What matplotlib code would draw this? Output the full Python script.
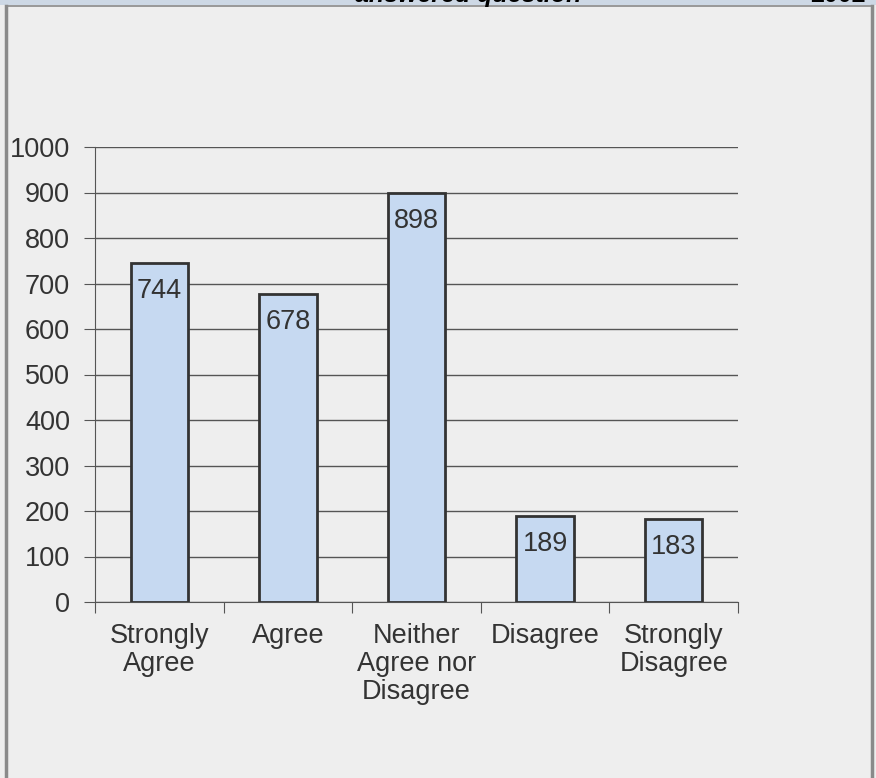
import matplotlib.pyplot as plt
import matplotlib.patches as patches
import numpy as np

plt.rcParams['font.family'] = ['Liberation Sans', 'DejaVu Sans']

# Survey response counts
categories = ['Strongly\nAgree', 'Agree', 'Neither\nAgree nor\nDisagree', 'Disagree', 'Strongly\nDisagree']
counts = [744, 678, 898, 189, 183]
yticks = [0, 100, 200, 300, 400, 500, 600, 700, 800, 900, 1000]

text_color = '#333333'
bg_color = '#eeeeee'
fs = 19.5

fig = plt.figure(figsize=(8.76, 7.78), dpi=100)
fig.patch.set_facecolor(bg_color)

# Header band and panel frame
fig.patches.append(patches.Rectangle((0, 1 - 5 / 778), 1, 5 / 778, transform=fig.transFigure,
                                     facecolor='#cdd8e5', edgecolor='none', zorder=0))
fig.add_artist(plt.Line2D([6 / 876, 6 / 876], [0, 1 - 6 / 778], transform=fig.transFigure,
                          color='#8a8a8a', lw=2.5))
fig.add_artist(plt.Line2D([872 / 876, 872 / 876], [0, 1 - 6 / 778], transform=fig.transFigure,
                          color='#8a8a8a', lw=2.5))
fig.add_artist(plt.Line2D([6 / 876, 872 / 876], [1 - 6 / 778, 1 - 6 / 778], transform=fig.transFigure,
                          color='#8a8a8a', lw=1.2))
# Header text, cut off by the top edge as in the page above
fig.text(468 / 876, 1 + 5 / 778, 'answered question', ha='center', va='center',
         fontsize=18, fontweight='bold', fontstyle='italic', color='black')
fig.text(838 / 876, 1 + 5 / 778, '2002', ha='center', va='center',
         fontsize=18, fontweight='bold', color='black')

ax = fig.add_axes([95 / 876, 1 - 602 / 778, 643 / 876, 455 / 778])
ax.set_facecolor(bg_color)

x = np.arange(len(categories))
bars = ax.bar(x, counts, width=0.445, color='#c6d9f1', edgecolor='#333333', linewidth=2, zorder=3)

for xi, v in zip(x, counts):
    ax.annotate(str(v), (xi, v), xytext=(0, -28), textcoords='offset pixels',
                ha='center', va='center', fontsize=fs, color=text_color, zorder=4)

ax.set_xlim(-0.5, len(categories) - 0.5)
ax.set_ylim(0, 1000)
ax.set_yticks(yticks)
ax.set_yticklabels([str(t) for t in yticks], fontsize=fs, color=text_color)
ax.yaxis.grid(True, color='#555555', linewidth=1, zorder=0)
ax.set_axisbelow(True)

# Category boundary ticks on x axis, labels centered under bars
ax.set_xticks(np.arange(-0.5, len(categories)))
ax.set_xticklabels([])
ax.set_xticks(x, minor=True)
ax.set_xticklabels(categories, minor=True, fontsize=fs, color=text_color, linespacing=1.1)
ax.tick_params(axis='x', which='minor', length=0, pad=15)
ax.tick_params(axis='x', which='major', length=8, color='#555555', direction='out')
ax.tick_params(axis='y', length=8, color='#555555', pad=10)

for side in ['top', 'right']:
    ax.spines[side].set_visible(False)
ax.spines['left'].set_color('#555555')
ax.spines['bottom'].set_color('#555555')

plt.savefig('out.png', dpi=100, facecolor=fig.get_facecolor())
